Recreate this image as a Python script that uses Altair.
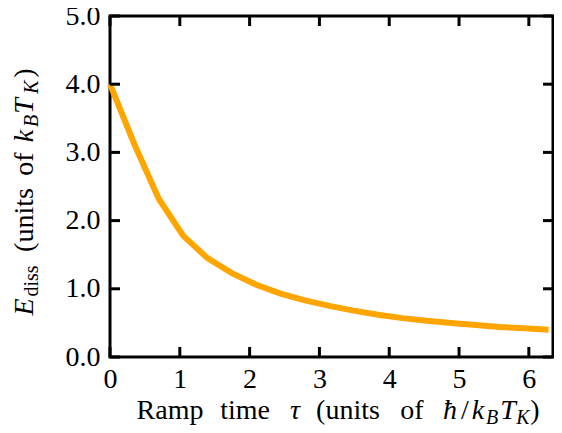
import altair as alt
import pandas as pd

# ---- data ----
tau = [0.0, 0.349, 0.698, 1.047, 1.396, 1.745, 2.094, 2.443, 2.793, 3.142,
       3.491, 3.840, 4.189, 4.538, 4.887, 5.236, 5.585, 5.934, 6.283]
e_diss = [4.00, 3.12, 2.32, 1.78, 1.45, 1.23, 1.06, 0.93, 0.83, 0.75,
          0.68, 0.62, 0.57, 0.53, 0.50, 0.47, 0.44, 0.42, 0.40]
x_ticks = [0, 1, 2, 3, 4, 5, 6]
y_ticks = [0.0, 1.0, 2.0, 3.0, 4.0, 5.0]
x_domain = [0, 6.346]
y_domain = [0, 5]

W, H = 443, 341
FONT = "Liberation Serif"
OX, OY = 110, 16  # plot origin on the page

df = pd.DataFrame({"tau": tau, "E": e_diss})
dxt = pd.DataFrame({"v": x_ticks})
dyt = pd.DataFrame({"v": y_ticks})

xs = alt.Scale(domain=x_domain, nice=False, zero=False)
ys = alt.Scale(domain=y_domain, nice=False, zero=False)

xaxis = alt.Axis(values=x_ticks, format="d", title=None, domain=False, ticks=False,
                 grid=False, labelFont=FONT, labelFontSize=28, labelColor="black",
                 labelPadding=8, labelFlush=False, labelOverlap=False)
yaxis = alt.Axis(values=y_ticks, format=".1f", title=None, domain=False, ticks=False,
                 grid=False, labelFont=FONT, labelFontSize=28, labelColor="black",
                 labelPadding=10, labelFlush=False, labelOverlap=False)

line = alt.Chart(df).mark_line(color="#FFA500", strokeWidth=6, clip=False).encode(
    x=alt.X("tau:Q", scale=xs, axis=xaxis),
    y=alt.Y("E:Q", scale=ys, axis=yaxis),
)

TL = 10
tick_style = dict(color="black", strokeWidth=3)
xt_bottom = alt.Chart(dxt).mark_rule(**tick_style).encode(
    x=alt.X("v:Q", scale=xs, axis=xaxis), y=alt.value(H - TL), y2=alt.value(H))
xt_top = alt.Chart(dxt).mark_rule(**tick_style).encode(
    x=alt.X("v:Q", scale=xs, axis=xaxis), y=alt.value(0), y2=alt.value(TL))
yt_left = alt.Chart(dyt).mark_rule(**tick_style).encode(
    y=alt.Y("v:Q", scale=ys, axis=yaxis), x=alt.value(0), x2=alt.value(TL))
yt_right = alt.Chart(dyt).mark_rule(**tick_style).encode(
    y=alt.Y("v:Q", scale=ys, axis=yaxis), x=alt.value(W - TL), x2=alt.value(W))

# ---- axis titles, typeset piece by piece (page coordinates of piece centres) ----
MAIN, SUB = 28, 20
BX = 419
x_title = [  # text, centre x, baseline y, size, italic
    ("Ramp", 170, BX, MAIN, False),
    ("time", 245, BX, MAIN, False),
    ("τ", 295, BX, MAIN, True),
    ("(units", 348, BX, MAIN, False),
    ("of", 412, BX, MAIN, False),
    ("ħ", 450, BX, MAIN, True),
    ("/", 465, BX, MAIN, False),
    ("k", 478, BX, MAIN, True),
    ("B", 492, BX + 5, SUB, True),
    ("T", 508, BX, MAIN, True),
    ("K", 523, BX + 5, SUB, True),
    (")", 535, BX, MAIN, False),
]
y_title = [  # text, centre y, baseline x, size, italic
    ("E", 307, 33, MAIN, True),
    ("diss", 281, 38, SUB, False),
    ("(units", 220, 33, MAIN, False),
    ("of", 164, 33, MAIN, False),
    ("k", 136, 33, MAIN, True),
    ("B", 121, 38, SUB, True),
    ("T", 106, 33, MAIN, True),
    ("K", 87, 38, SUB, True),
    (")", 73, 33, MAIN, False),
]

texts = []
for t, cx, by, size, it in x_title:
    texts.append(
        alt.Chart(pd.DataFrame({"t": [t]})).mark_text(
            font=FONT, fontSize=size, fontStyle="italic" if it else "normal",
            align="center", baseline="alphabetic", color="black",
        ).encode(x=alt.value(cx - OX), y=alt.value(by - OY), text="t:N")
    )
for t, cy, bx, size, it in y_title:
    texts.append(
        alt.Chart(pd.DataFrame({"t": [t]})).mark_text(
            font=FONT, fontSize=size, fontStyle="italic" if it else "normal",
            align="center", baseline="alphabetic", angle=270, color="black",
        ).encode(x=alt.value(bx - OX), y=alt.value(cy - OY), text="t:N")
    )

chart = alt.layer(line, xt_bottom, xt_top, yt_left, yt_right, *texts).properties(
    width=W, height=H,
    padding={"left": 102, "top": 8, "right": 1, "bottom": 70},
    autosize=alt.AutoSizeParams(type="none"),
    background="white",
).configure_view(stroke="black", strokeWidth=3)

chart.save("out.html", embed_options={"renderer": "svg", "actions": False})
